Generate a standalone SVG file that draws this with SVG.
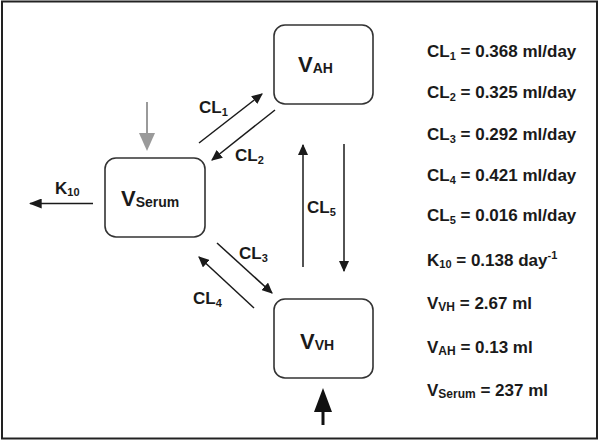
<svg xmlns="http://www.w3.org/2000/svg" width="600" height="441" viewBox="0 0 600 441">
<style>
text{font-family:"Liberation Sans",Arial,sans-serif;font-weight:bold;fill:#1a1a1a}
.box{fill:#fff;stroke:#333;stroke-width:1.6}
.ln{stroke:#1a1a1a;stroke-width:1.5;fill:none}
.lbl{font-size:17px}
.nd{font-size:22px}
.val{font-size:17px}
</style>
<defs>
<marker id="ah" viewBox="0 0 10 10" refX="9" refY="5" markerWidth="11" markerHeight="10" markerUnits="userSpaceOnUse" orient="auto" preserveAspectRatio="none">
<path d="M0,0 L10,5 L0,10 z" fill="#1a1a1a"/>
</marker>
<marker id="ahk" viewBox="0 0 10 10" refX="9" refY="5" markerWidth="13" markerHeight="10" markerUnits="userSpaceOnUse" orient="auto" preserveAspectRatio="none">
<path d="M0,0 L10,5 L0,10 z" fill="#1a1a1a"/>
</marker>
</defs>
<rect width="600" height="441" fill="#fff"/>
<rect x="2" y="1.5" width="595" height="437" fill="none" stroke="#222" stroke-width="2"/>

<g id="connectors">
<line class="ln" x1="199" y1="143" x2="262" y2="94" marker-end="url(#ah)"/>
<line class="ln" x1="275" y1="110" x2="212" y2="160" marker-end="url(#ah)"/>
<line class="ln" x1="303" y1="267" x2="303" y2="145" marker-end="url(#ah)"/>
<line class="ln" x1="344" y1="144" x2="344" y2="271" marker-end="url(#ah)"/>
<line class="ln" x1="217" y1="243" x2="272" y2="293" marker-end="url(#ah)"/>
<line class="ln" x1="254" y1="308" x2="199" y2="257" marker-end="url(#ah)"/>
<line class="ln" x1="93" y1="203.5" x2="30" y2="203.5" marker-end="url(#ahk)"/>
<line x1="147" y1="102" x2="147" y2="136" stroke="#9a9a9a" stroke-width="2"/>
<path d="M139,133 L155,133 L147,151 z" fill="#9a9a9a"/>
<line x1="323" y1="425" x2="323" y2="408" stroke="#111" stroke-width="3"/>
<path d="M314,412 L332,412 L323,388 z" fill="#111"/>
<text class="lbl" x="199" y="113">CL<tspan font-size="11" dy="3">1</tspan></text>
<text class="lbl" x="235" y="161">CL<tspan font-size="11" dy="3">2</tspan></text>
<text class="lbl" x="239" y="259">CL<tspan font-size="11" dy="3">3</tspan></text>
<text class="lbl" x="193" y="304">CL<tspan font-size="11" dy="3">4</tspan></text>
<text class="lbl" x="307" y="213">CL<tspan font-size="11" dy="3">5</tspan></text>
<text class="lbl" x="55" y="194">K<tspan font-size="11" dy="2">10</tspan></text>
</g>

<g id="node-vah">
<rect class="box" x="274" y="25" width="99" height="79" rx="11"/>
<text class="nd" x="298" y="72">V<tspan font-size="14" dy="1">AH</tspan></text>
</g>
<g id="node-vserum">
<rect class="box" x="105" y="158" width="100" height="79" rx="11"/>
<text class="nd" x="121" y="206">V<tspan font-size="14" dy="1">Serum</tspan></text>
</g>
<g id="node-vvh">
<rect class="box" x="274" y="299" width="99" height="79" rx="11"/>
<text class="nd" x="300" y="349">V<tspan font-size="14" dy="1">VH</tspan></text>
</g>

<g id="values">
<text class="val" x="427" y="57">CL<tspan font-size="11" dy="3">1</tspan><tspan dy="-3"> = 0.368 ml/day</tspan></text>
<text class="val" x="427" y="98">CL<tspan font-size="11" dy="3">2</tspan><tspan dy="-3"> = 0.325 ml/day</tspan></text>
<text class="val" x="427" y="140">CL<tspan font-size="11" dy="3">3</tspan><tspan dy="-3"> = 0.292 ml/day</tspan></text>
<text class="val" x="427" y="181">CL<tspan font-size="11" dy="3">4</tspan><tspan dy="-3"> = 0.421 ml/day</tspan></text>
<text class="val" x="427" y="221">CL<tspan font-size="11" dy="3">5</tspan><tspan dy="-3"> = 0.016 ml/day</tspan></text>
<text class="val" x="427" y="266">K<tspan font-size="11" dy="2">10</tspan><tspan dy="-2"> = 0.138 day</tspan><tspan font-size="11" dy="-7">-1</tspan></text>
<text class="val" x="427" y="309">V<tspan font-size="12" dy="2">VH</tspan><tspan dy="-2"> = 2.67 ml</tspan></text>
<text class="val" x="427" y="353">V<tspan font-size="12" dy="2">AH</tspan><tspan dy="-2"> = 0.13 ml</tspan></text>
<text class="val" x="427" y="396">V<tspan font-size="12" dy="2">Serum</tspan><tspan dy="-2"> = 237 ml</tspan></text>
</g>
</svg>
